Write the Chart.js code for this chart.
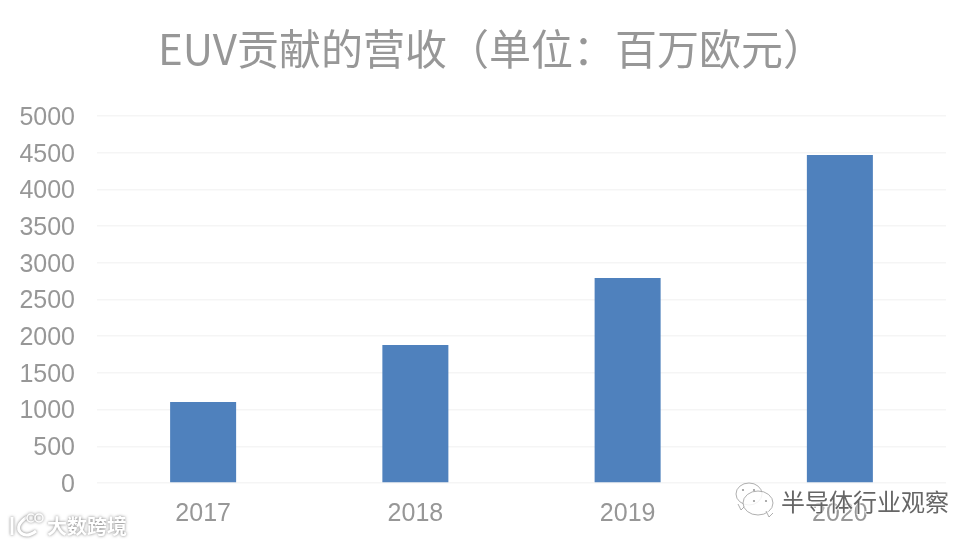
<!DOCTYPE html>
<html>
<head>
<meta charset="utf-8">
<style>
  html, body { margin: 0; padding: 0; background: #fff; }
  #wrap { width: 980px; height: 544px; }
</style>
<script src="https://cdn.jsdelivr.net/npm/chart.js@4/dist/chart.umd.min.js"></script>
</head>
<body>
<div id="wrap"><canvas id="chart" width="980" height="544"></canvas></div>
<script>
// Chart data
const categories = ['2017', '2018', '2019', '2020']
const revenue = [1103, 1880, 2793, 4469]
const chartTitle = 'EUV贡献的营收（单位：百万欧元）'
const fontFamily = '"Liberation Sans", "Noto Sans CJK SC", sans-serif'
const cjkFont = '"Noto Sans CJK SC", sans-serif'
const textColor = '#979797'

// The reference title sits off the chart centre, so it is drawn here
const titleText = {
  id: 'titleText',
  afterDraw(chart) {
    const ctx = chart.ctx
    ctx.save()
    ctx.font = '42px ' + cjkFont
    ctx.fillStyle = textColor
    ctx.textAlign = 'left'
    ctx.textBaseline = 'middle'
    ctx.fillText(chartTitle, 158, 49)
    ctx.restore()
  }
}

// Image watermarks that sit on top of the chart
function drawBubble(ctx, x, y, rx, ry, tailX, tailY) {
  ctx.beginPath()
  ctx.ellipse(x, y, rx, ry, 0, 0, Math.PI * 2)
  ctx.fill()
  ctx.stroke()
  ctx.beginPath()
  ctx.moveTo(tailX - 3, tailY - 3)
  ctx.lineTo(tailX, tailY + 3)
  ctx.lineTo(tailX + 4, tailY - 1)
  ctx.fill()
  ctx.stroke()
}

const watermarks = {
  id: 'watermarks',
  afterDraw(chart) {
    const ctx = chart.ctx
    ctx.save()

    // wechat account mark, bottom right
    ctx.strokeStyle = '#9a9a9a'
    ctx.fillStyle = 'rgba(255,255,255,0.85)'
    ctx.lineWidth = 0.8
    drawBubble(ctx, 749, 494, 13, 11, 741, 507)
    drawBubble(ctx, 758, 503, 15, 12, 769, 514)
    ctx.fillStyle = '#9a9a9a'
    ;[[743, 490], [754, 490], [754, 501], [766, 501]].forEach(([x, y]) => {
      ctx.beginPath()
      ctx.arc(x, y, 1.1, 0, Math.PI * 2)
      ctx.fill()
    })
    ctx.textBaseline = 'middle'
    ctx.textAlign = 'left'
    ctx.font = '24px ' + cjkFont
    ctx.lineWidth = 2
    ctx.strokeStyle = 'rgba(255,255,255,0.7)'
    ctx.strokeText('半导体行业观察', 781, 502)
    ctx.fillStyle = '#666666'
    ctx.fillText('半导体行业观察', 781, 502)

    // logo and name, bottom left
    ctx.shadowColor = 'rgba(90,90,90,0.8)'
    ctx.shadowBlur = 3
    ctx.fillStyle = '#ffffff'
    ctx.strokeStyle = '#ffffff'
    ctx.lineWidth = 3
    ctx.beginPath()
    ctx.moveTo(12, 517)
    ctx.lineTo(12, 535)
    ctx.moveTo(27, 517)
    ctx.quadraticCurveTo(14, 526, 21, 533)
    ctx.quadraticCurveTo(27, 538, 36, 531)
    ctx.stroke()
    ctx.lineWidth = 1.5
    ;[31, 39].forEach(x => {
      ctx.beginPath()
      ctx.arc(x, 518, 4, 0, Math.PI * 2)
      ctx.stroke()
    })
    ctx.font = 'bold 20px ' + cjkFont
    ctx.fillText('大数跨境', 47, 526)

    ctx.restore()
  }
}

new Chart(document.getElementById('chart'), {
  type: 'bar',
  data: {
    labels: categories,
    datasets: [{
      data: revenue,
      backgroundColor: '#4f81bd',
      barPercentage: 0.311,
      categoryPercentage: 1
    }]
  },
  options: {
    responsive: false,
    animation: false,
    layout: { padding: { left: 0, right: 34, top: 116, bottom: 0 } },
    plugins: {
      legend: { display: false },
      tooltip: { enabled: false }
    },
    scales: {
      x: {
        grid: { display: false },
        border: { display: false },
        ticks: {
          color: textColor,
          font: { family: fontFamily, size: 25 },
          padding: 8,
          maxRotation: 0
        },
        afterFit(scale) { scale.height = 61 }
      },
      y: {
        min: 0,
        max: 5000,
        grid: { color: '#f5f5f5', lineWidth: 1.5, drawTicks: false },
        border: { display: false },
        ticks: {
          stepSize: 500,
          color: textColor,
          font: { family: fontFamily, size: 25 },
          format: { useGrouping: false },
          padding: 22,
          labelOffset: 2
        },
        afterFit(scale) { scale.width = 97 }
      }
    }
  },
  plugins: [titleText, watermarks]
})
</script>
</body>
</html>
